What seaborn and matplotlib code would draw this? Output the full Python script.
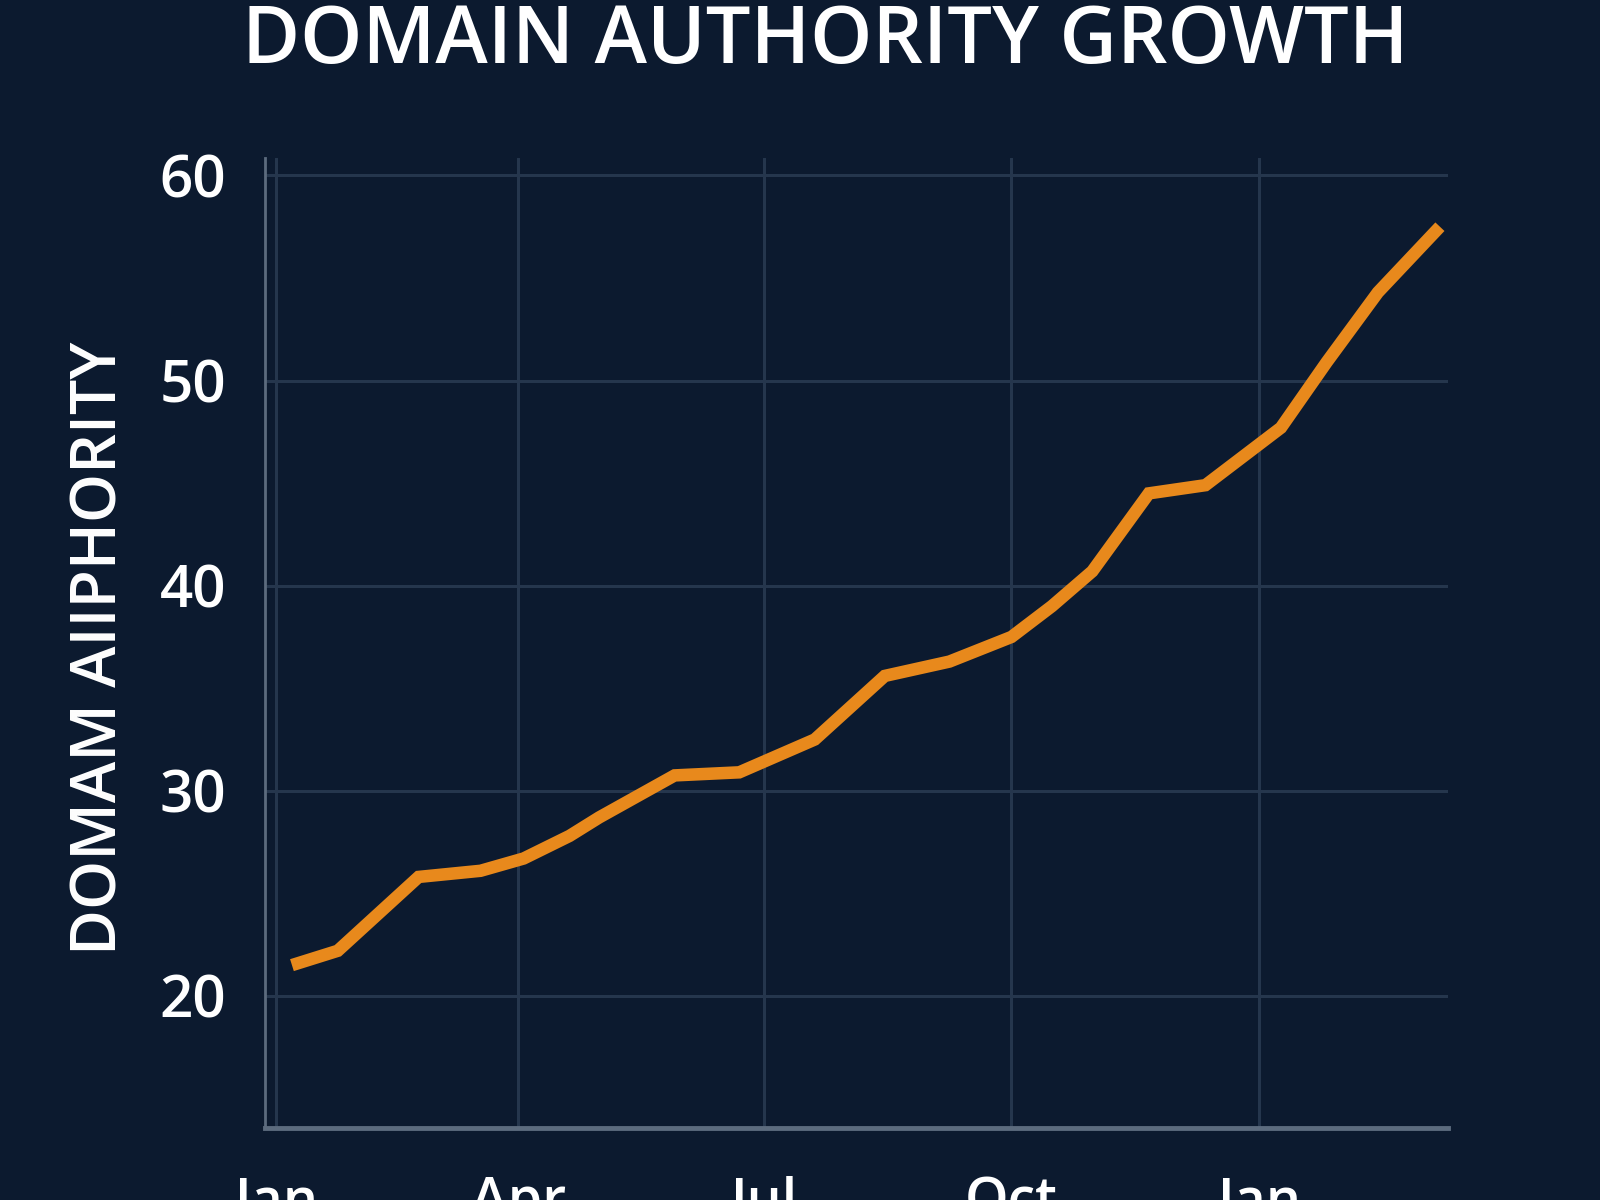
import pandas as pd
import matplotlib.pyplot as plt
import matplotlib.dates as mdates
import seaborn as sns

# values
dates = ['2023-01-07', '2023-01-24', '2023-02-23', '2023-03-18', '2023-04-03',
         '2023-04-20', '2023-05-01', '2023-05-29', '2023-06-22', '2023-07-20',
         '2023-08-15', '2023-09-08', '2023-10-01', '2023-10-16', '2023-10-31',
         '2023-11-21', '2023-12-12', '2024-01-09', '2024-01-26', '2024-02-14',
         '2024-03-08']
authority = [21.5, 22.2, 25.8, 26.1, 26.7,
             27.8, 28.7, 30.75, 30.9, 32.5,
             35.6, 36.3, 37.5, 39.0, 40.7,
             44.5, 44.9, 47.7, 50.9, 54.3,
             57.5]
y_ticks = [20, 30, 40, 50, 60]

bg = '#0c1a2f'
grid = '#25364d'
spine = '#5c6b7e'
orange = '#e8891c'

sns.set_theme(style='darkgrid', rc={
    'figure.facecolor': bg,
    'axes.facecolor': bg,
    'grid.color': grid,
    'grid.linewidth': 2.2,
    'text.color': 'white',
    'xtick.color': 'white',
    'ytick.color': 'white',
    'axes.labelcolor': 'white',
})
plt.rcParams['font.family'] = ['Open Sans', 'DejaVu Sans']

df = pd.DataFrame({'date': pd.to_datetime(dates), 'authority': authority})

fig = plt.figure(figsize=(16, 12), dpi=100)
ax = fig.add_axes([265 / 1600, 1 - 1128 / 1200, (1448 - 265) / 1600, (1128 - 158) / 1200])

sns.lineplot(data=df, x='date', y='authority', ax=ax, color=orange,
             linewidth=9, solid_capstyle='butt', solid_joinstyle='miter')

ax.set_xlim(pd.Timestamp('2022-12-28'), pd.Timestamp('2024-03-11'))
ax.set_ylim(13.56, 60.85)
ax.set_yticks(y_ticks)
ax.xaxis.set_major_locator(mdates.MonthLocator(bymonth=[1, 4, 7, 10]))
ax.xaxis.set_major_formatter(mdates.DateFormatter('%b'))

ax.tick_params(axis='y', labelsize=42, length=0, pad=28)
ax.tick_params(axis='x', labelsize=40, length=0, pad=34)
for lbl in ax.get_xticklabels() + ax.get_yticklabels():
    lbl.set_fontweight('semibold')

for s in ['top', 'right']:
    ax.spines[s].set_visible(False)
ax.spines['left'].set_visible(True)
ax.spines['left'].set_color(spine)
ax.spines['left'].set_linewidth(2)
ax.spines['bottom'].set_visible(True)
ax.spines['bottom'].set_color(spine)
ax.spines['bottom'].set_linewidth(3.5)

ax.set_xlabel('')
ax.set_ylabel('DOMAM AIIPHORITY', fontsize=45, fontweight='semibold')
ax.yaxis.set_label_coords(-0.113, 0.495)

fig.text(0.516, 1 - 63 / 1200, 'DOMAIN AUTHORITY GROWTH', ha='center',
         va='baseline', fontsize=57, fontweight='semibold', color='white')

plt.savefig('out.png', dpi=100, facecolor=bg)
